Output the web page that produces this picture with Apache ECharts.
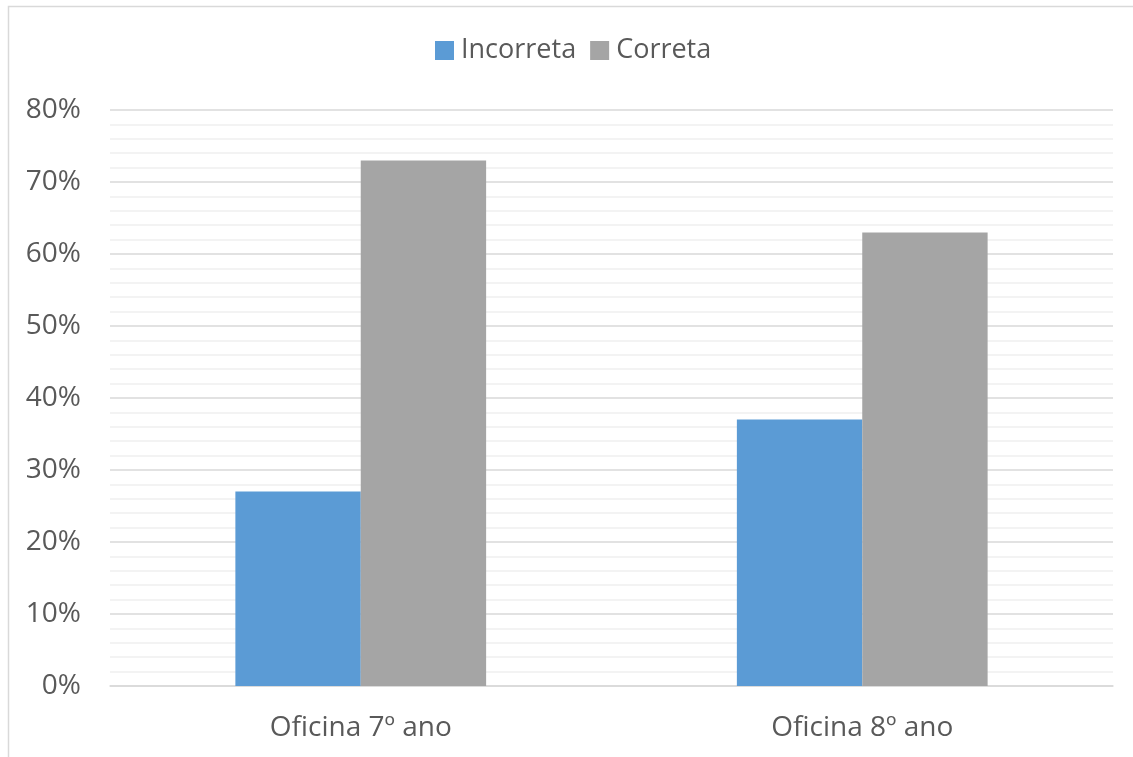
<!DOCTYPE html>
<html>
<head>
<meta charset="utf-8">
<script src="https://cdn.jsdelivr.net/npm/echarts@6/dist/echarts.min.js"></script>
<style>
  html, body { margin: 0; padding: 0; background: #fff; }
  #chart { width: 1133px; height: 757px; }
</style>
</head>
<body>
<div id="chart"></div>
<script>
var categories = ['Oficina 7º ano', 'Oficina 8º ano'];
var incorreta = [27, 37];
var correta = [73, 63];

var chart = echarts.init(document.getElementById('chart'));
var font = '"Open Sans", sans-serif';

chart.setOption({
  animation: false,
  backgroundColor: '#fff',
  graphic: [{
    type: 'rect',
    shape: { x: 8.5, y: 6.5, width: 1200, height: 800 },
    style: { fill: 'none', stroke: '#d9d9d9', lineWidth: 1.5 },
    silent: true
  }],
  legend: {
    left: 430,
    top: 32,
    itemWidth: 19,
    itemHeight: 19,
    itemGap: 14,
    icon: 'rect',
    textStyle: { fontFamily: font, fontSize: 27, color: '#595959', padding: [0, 0, 0, 2] },
    data: ['Incorreta', 'Correta']
  },
  grid: { left: 110, right: 20, top: 110, bottom: 71 },
  xAxis: {
    type: 'category',
    data: categories,
    axisTick: { show: false },
    axisLine: { lineStyle: { color: '#d9d9d9', width: 1.5 } },
    axisLabel: { fontFamily: font, fontSize: 28, color: '#595959', margin: 28 }
  },
  yAxis: {
    type: 'value',
    min: 0,
    max: 80,
    interval: 10,
    axisLine: { show: false },
    axisTick: { show: false },
    axisLabel: { fontFamily: font, fontSize: 28, color: '#595959', margin: 29, formatter: '{value}%' },
    splitLine: { lineStyle: { color: '#d9d9d9', width: 1.5 } },
    minorTick: { show: false, splitNumber: 5 },
    minorSplitLine: { show: true, lineStyle: { color: '#f0f0f0', width: 1.5 } }
  },
  series: [
    {
      name: 'Incorreta',
      type: 'bar',
      data: incorreta,
      barGap: '0%',
      barCategoryGap: '50%',
      itemStyle: { color: '#5b9bd5' }
    },
    {
      name: 'Correta',
      type: 'bar',
      data: correta,
      itemStyle: { color: '#a5a5a5' }
    }
  ]
});
</script>
</body>
</html>
